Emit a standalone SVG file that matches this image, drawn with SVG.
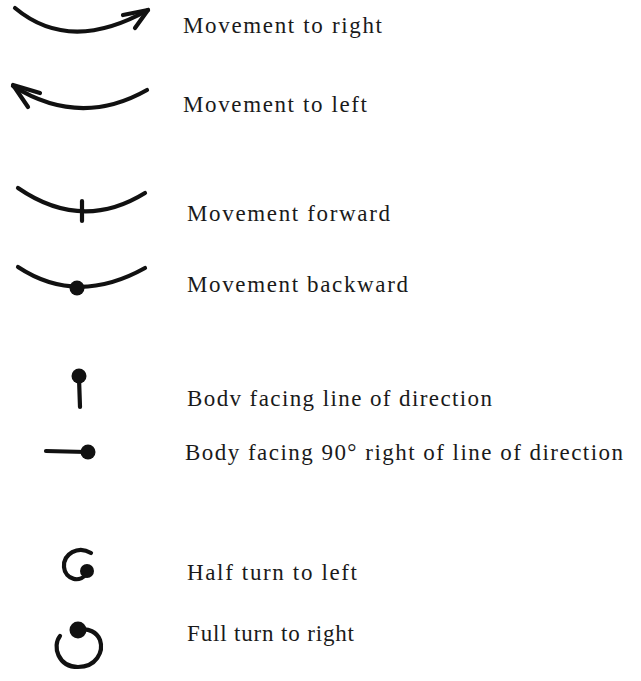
<svg xmlns="http://www.w3.org/2000/svg" width="641" height="681" viewBox="0 0 641 681">
<style>
.s{fill:none;stroke:#111;stroke-width:4.2;stroke-linecap:round;stroke-linejoin:round}
.d{fill:#111}
text{font-family:"Liberation Serif","Times New Roman",serif;font-size:23px;fill:#1a1a1a}
</style>
<rect width="641" height="681" fill="#fff"/>
<g id="right">
<path class="s" d="M15,8 Q70,54 148,10"/>
<polyline class="s" points="123,15 148,10 135,28"/>
<text x="183" y="33" textLength="199" lengthAdjust="spacing">Movement to right</text>
</g>
<g id="left">
<path class="s" d="M147,90 Q80,128 13,86"/>
<polyline class="s" points="40,93 13,85 28,107"/>
<text x="183" y="112" textLength="184" lengthAdjust="spacing">Movement to left</text>
</g>
<g id="forward">
<path class="s" d="M18,188 Q82,232 145,193" stroke-width="3.5"/>
<line class="s" x1="82" y1="201" x2="82" y2="221" stroke-width="6"/>
<text x="187" y="221" textLength="203" lengthAdjust="spacing">Movement forward</text>
</g>
<g id="backward">
<path class="s" d="M18,267 Q77,306 145,268" stroke-width="3.5"/>
<circle class="d" cx="77" cy="288" r="7.5"/>
<text x="187" y="292" textLength="221" lengthAdjust="spacing">Movement backward</text>
</g>
<g id="facing">
<line class="s" x1="79" y1="378" x2="80" y2="407"/>
<circle class="d" cx="79" cy="376" r="7.5"/>
<text x="187" y="406" textLength="305" lengthAdjust="spacing">Bodv facing line of direction</text>
</g>
<g id="facing90">
<line class="s" x1="46" y1="451" x2="86" y2="452"/>
<circle class="d" cx="88" cy="452" r="7.5"/>
<text x="185" y="460" textLength="438" lengthAdjust="spacing">Body facing 90° right of line of direction</text>
</g>
<g id="halfturn">
<path class="s" d="M91,553 C78,545 63,554 64,567 C65,580 81,584 88,572" stroke-width="4.5"/>
<circle class="d" cx="87" cy="571" r="7"/>
<text x="187" y="580" textLength="170" lengthAdjust="spacing">Half turn to left</text>
</g>
<g id="fullturn">
<path class="s" d="M60,636 C52,646 58,667 78,667 C96,667 104,652 100,640 C97,632 88,628 80,630" stroke-width="4.5"/>
<circle class="d" cx="78" cy="630" r="8.5"/>
<text x="187" y="641" textLength="167" lengthAdjust="spacing">Full turn to right</text>
</g>
</svg>
